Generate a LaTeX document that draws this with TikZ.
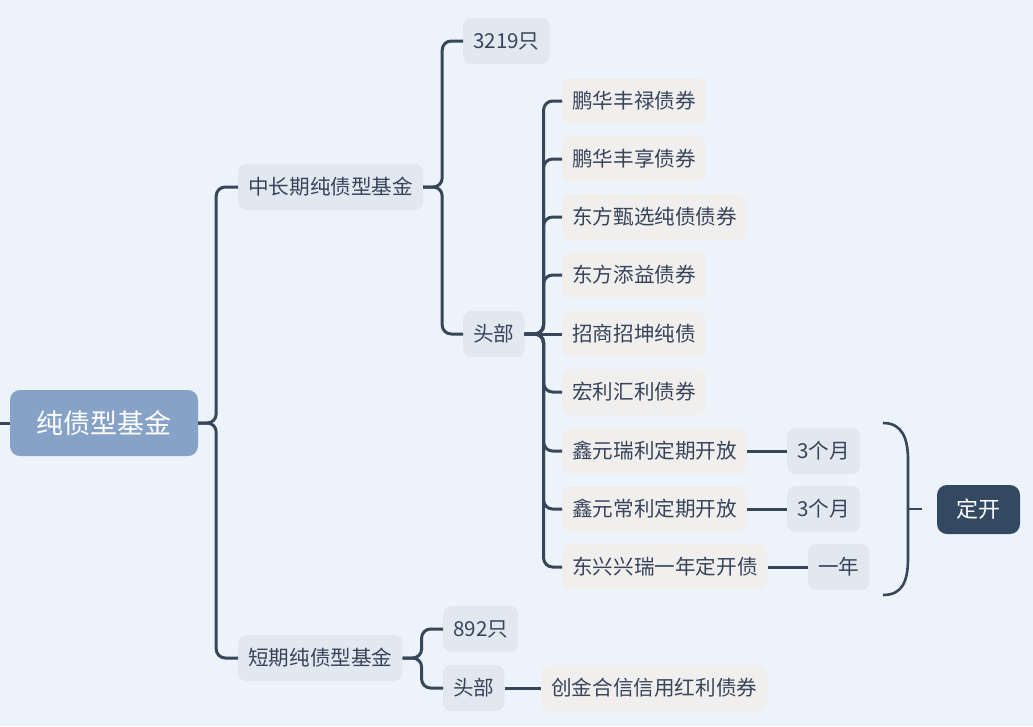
\documentclass[tikz,border=0pt]{standalone}
\usepackage{fontspec}
\setmainfont{Noto Sans CJK SC}
\definecolor{bgc}{HTML}{EDF3FA}
\definecolor{linec}{HTML}{38465A}
\definecolor{txtc}{HTML}{37445A}
\definecolor{boxa}{HTML}{E2E8F0}
\definecolor{boxb}{HTML}{F0EFEE}
\definecolor{rootc}{HTML}{86A2C7}
\definecolor{darkc}{HTML}{334961}
\tikzset{
  base/.style={anchor=west, rounded corners=8pt, inner xsep=10pt, inner ysep=0pt,
    minimum height=46pt, text=txtc, font=\fontsize{20.6}{24}\selectfont},
  boxA/.style={base, fill=boxa},
  boxB/.style={base, fill=boxb},
  rootbox/.style={anchor=center, rounded corners=10pt, fill=rootc, text=white,
    minimum width=188pt, minimum height=66pt, inner sep=0pt, font=\fontsize{27}{30}\selectfont},
  darkbox/.style={anchor=center, rounded corners=10pt, fill=darkc, text=white,
    minimum width=83pt, minimum height=49pt, inner sep=0pt, font=\fontsize{22}{24}\selectfont},
  conn/.style={draw=linec, line width=3pt, rounded corners=9pt},
}
\begin{document}
\begin{tikzpicture}[x=1pt,y=-1pt]
\fill[bgc] (0,0) rectangle (1033,726);
\useasboundingbox (0,0) rectangle (1033,726);

\node[rootbox] (root) at (104,423) {纯债型基金};
\coordinate (lft) at (0,423);

\node[boxA] (mid) at (238,187) {中长期纯债型基金};
\node[boxA] (short) at (238,658) {短期纯债型基金};

\node[boxA] (n3219) at (463,41) {3219只};
\node[boxA] (head1) at (463,334) {头部};

\node[boxB] (c1) at (562,101) {鹏华丰禄债券};
\node[boxB] (c2) at (562,159) {鹏华丰享债券};
\node[boxB] (c3) at (562,217) {东方甄选纯债债券};
\node[boxB] (c4) at (562,275) {东方添益债券};
\node[boxB] (c5) at (562,334) {招商招坤纯债};
\node[boxB] (c6) at (562,392) {宏利汇利债券};
\node[boxB] (c7) at (562,451) {鑫元瑞利定期开放};
\node[boxB] (c8) at (562,509) {鑫元常利定期开放};
\node[boxB] (c9) at (562,567) {东兴兴瑞一年定开债};

\node[boxA] (m1) at (787,451) {3个月};
\node[boxA] (m2) at (787,509) {3个月};
\node[boxA] (m3) at (808,567) {一年};

\node[darkbox] (dk) at (978.5,509.5) {定开};

\node[boxA] (n892) at (443,629) {892只};
\node[boxA] (head2) at (443,688) {头部};
\node[boxB] (cj) at (541,688) {创金合信信用红利债券};

% connectors
\draw[conn] (lft) -- (root.west);
\draw[conn] (root.east) -- ++(18,0) |- (mid.west);
\draw[conn] (root.east) -- ++(18,0) |- (short.west);

\draw[conn] (mid.east) -- ++(19,0) |- (n3219.west);
\draw[conn] (mid.east) -- ++(19,0) |- (head1.west);

\foreach \c in {c1,c2,c3,c4,c6,c7,c8,c9}
  \draw[conn] (head1.east) -- ++(19,0) |- (\c.west);
\draw[conn] (head1.east) -- (c5.west);

\draw[conn] (c7.east) -- (m1.west);
\draw[conn] (c8.east) -- (m2.west);
\draw[conn] (c9.east) -- (m3.west);

\draw[conn] (short.east) -- ++(19,0) |- (n892.west);
\draw[conn] (short.east) -- ++(19,0) |- (head2.west);
\draw[conn] (head2.east) -- (cj.west);

% brace
\coordinate (bt) at (883,423);
\coordinate (bb) at (883,595);
\coordinate (bm) at (908,509);
\coordinate (bk) at (922,509);
\draw[draw=linec, line width=2.6pt]
  (bt) .. controls (902,423) and (908,438) .. (908,460)
  -- (908,558) .. controls (908,582) and (902,595) .. (bb);
\draw[draw=linec, line width=2.6pt] (bm) -- (bk);
\end{tikzpicture}
\end{document}
